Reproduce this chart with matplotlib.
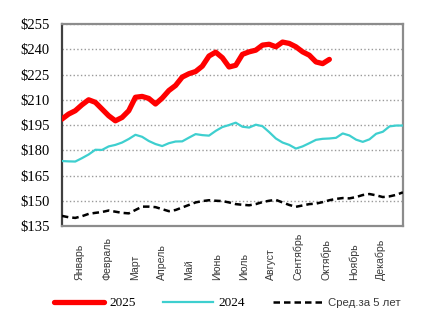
import numpy as np
import matplotlib.pyplot as plt
from matplotlib.transforms import blended_transform_factory

# weekly prices, $
weeks = np.arange(1, 53)

price_2025 = [198.5, 201.5, 203.5, 207.0, 210.0, 208.5, 204.5, 200.5, 197.5, 199.5,
              203.5, 211.5, 212.0, 210.8, 207.5, 211.0, 215.5, 218.5, 223.5, 225.5,
              226.8, 230.0, 236.0, 238.3, 235.0, 229.5, 230.5, 237.0, 238.5, 239.5,
              242.5, 243.0, 241.5, 244.3, 243.5, 241.5, 238.5, 236.5, 232.5, 231.5,
              234.0]

price_2024 = [173.6, 173.4, 173.3, 175.3, 177.5, 180.3, 180.2, 182.3, 183.2, 184.6,
              186.7, 189.2, 188.0, 185.5, 183.7, 182.5, 184.2, 185.2, 185.3, 187.5,
              189.6, 189.0, 188.7, 191.5, 193.8, 195.0, 196.4, 194.0, 193.5, 195.2,
              194.3, 190.8, 187.0, 184.6, 183.2, 181.0, 182.3, 184.2, 186.2, 186.8,
              187.0, 187.4, 190.0, 188.8, 186.3, 185.0, 186.5, 189.8, 191.0, 194.2,
              194.7, 194.7]

avg_5y = [141.0, 140.2, 139.8, 140.8, 142.2, 142.8, 143.3, 144.2, 143.5, 142.8,
          142.5, 144.5, 146.5, 146.5, 146.2, 145.0, 143.8, 144.5, 146.0, 147.5,
          149.0, 149.8, 150.3, 150.0, 149.8, 149.0, 148.0, 147.6, 147.3, 148.0,
          149.2, 150.0, 150.5, 149.0, 147.5, 146.4, 147.2, 148.0, 148.3, 149.2,
          150.3, 151.1, 151.6, 151.4, 152.2, 153.4, 154.0, 153.2, 152.2, 152.6,
          153.5, 155.0]

months = ['Январь', 'Февраль', 'Март', 'Апрель', 'Май', 'Июнь', 'Июль',
          'Август', 'Сентябрь', 'Октябрь', 'Ноябрь', 'Декабрь']
yticks = np.arange(135, 256, 15)

fig = plt.figure(figsize=(4.21, 3.21), dpi=100)
ax = fig.add_axes([0.147, 0.296, 0.81, 0.629])

ax.plot(weeks[:len(price_2025)], price_2025, color='#ff0000', lw=3.8,
        solid_capstyle='round', solid_joinstyle='round', label='2025', zorder=4)
ax.plot(weeks, price_2024, color='#3ecfcf', lw=1.6,
        solid_joinstyle='round', label='2024', zorder=3)
ax.plot(weeks, avg_5y, color='black', lw=1.8, dashes=(2.6, 1.6),
        label='Сред.за 5 лет', zorder=3)

ax.set_xlim(1, 52)
ax.set_ylim(135, 255)
ax.set_yticks(yticks)
ax.set_yticklabels(['$%d' % v for v in yticks], family='Liberation Serif', fontsize=10.5)
ax.tick_params(axis='y', length=0, pad=9)
ax.set_xticks([])
ax.yaxis.grid(True, color='#9a9a9a', ls=':', lw=1)
ax.set_axisbelow(True)

for side in ['top', 'right', 'bottom']:
    ax.spines[side].set_color('#8c8c8c')
    ax.spines[side].set_linewidth(1.6)
ax.spines['left'].set_color('#404040')
ax.spines['left'].set_linewidth(1.6)

# month names, bottom-aligned under the axis
trans = blended_transform_factory(ax.transData, fig.transFigure)
month_pos = 3.7 + 4.09 * np.arange(len(months))
for pos, name in zip(month_pos, months):
    ax.text(pos, 0.128, name, transform=trans, rotation=90, ha='center', va='bottom',
            family='Liberation Sans', fontsize=7.6, color='#3a3a3a')

leg = fig.legend(loc='center', bbox_to_anchor=(0.54, 0.055), ncol=3, frameon=False,
                 handlelength=3.8, handletextpad=0.4, columnspacing=2.1,
                 prop={'family': 'Liberation Serif', 'size': 9.5})
leg.get_texts()[2].set_family('Liberation Sans')
leg.get_texts()[2].set_fontsize(8.2)
leg.get_texts()[2].set_color('#3a3a3a')

fig.savefig('out.png', dpi=100)
